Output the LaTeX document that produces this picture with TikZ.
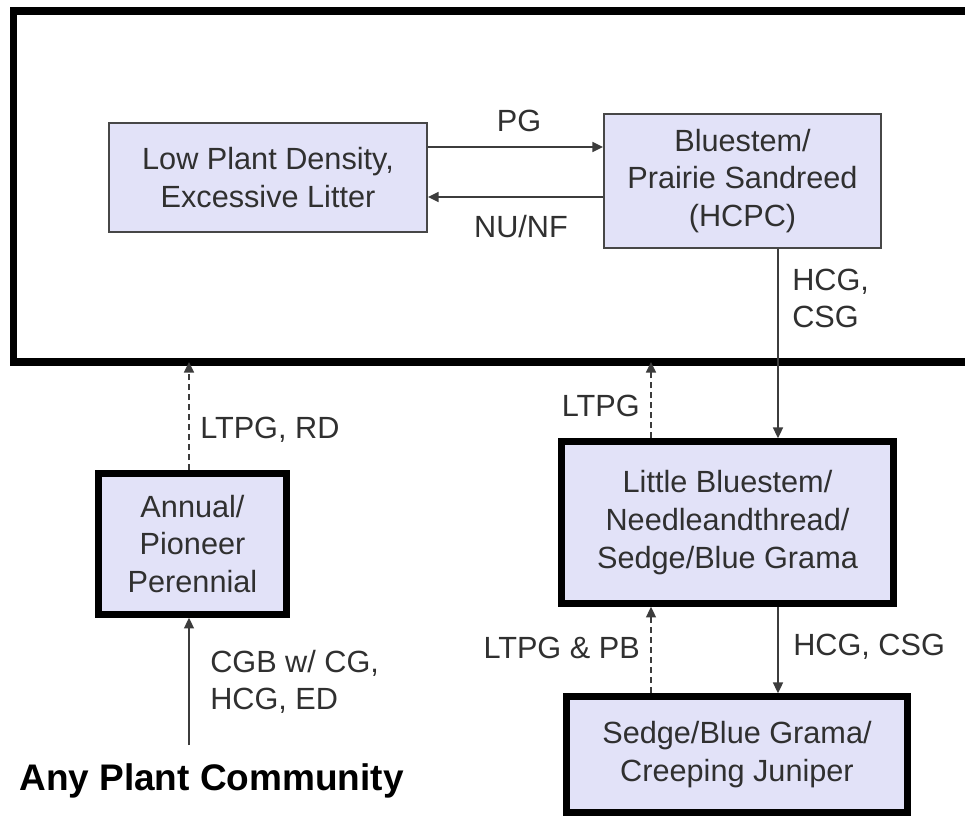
\documentclass[tikz,border=0pt]{standalone}
\usepackage{fontspec}
\setmainfont{Liberation Sans}
\usetikzlibrary{arrows.meta}
\definecolor{boxfill}{RGB}{226,226,248}
\definecolor{txt}{RGB}{48,48,48}
\definecolor{lnc}{RGB}{60,60,60}
\tikzset{
  base/.style={rectangle, fill=boxfill, align=center, text=txt,
    font=\fontsize{23}{28.2}\selectfont, inner sep=0pt},
  thinbox/.style={base, draw=black!72, line width=1.5pt},
  thickbox/.style={base, draw=black, line width=5pt},
  conn/.style={draw=lnc, line width=1.2pt, -{Triangle[length=8pt,width=7.5pt]}},
  dconn/.style={conn, dash pattern=on 4.5pt off 3pt},
  lbl/.style={text=txt, font=\fontsize{23}{27.75}\selectfont, inner sep=0pt, align=left},
}
\begin{document}
\begin{tikzpicture}[x=0.75pt, y=-0.75pt]
\useasboundingbox (0,0) rectangle (965,816);
\clip (0,0) rectangle (965,816);
\fill[white] (0,0) rectangle (965,816);

% outer frame (right side runs off the picture)
\node[draw=black, line width=5.6pt, minimum width=740pt, minimum height=263.25pt,
      inner sep=0pt, outer sep=0pt] (frame) at (506.75,186.5) {};

% state boxes
\node[thinbox, minimum width=238.5pt, minimum height=81.75pt] (low) at (268,177.5)
  {Low Plant Density,\\Excessive Litter};
\node[thinbox, minimum width=207.75pt, minimum height=100.5pt] (blue) at (742.5,181)
  {Bluestem/\\Prairie Sandreed\\(HCPC)};
\node[thickbox, minimum width=249pt, minimum height=121.5pt] (little) at (727.5,522.5)
  {Little Bluestem/\\Needleandthread/\\Sedge/Blue Grama};
\node[thickbox, minimum width=255.75pt, minimum height=87pt] (sedge) at (737,754.5)
  {Sedge/Blue Grama/\\Creeping Juniper};
\node[thickbox, minimum width=141pt, minimum height=105.75pt] (annual) at (192.5,544)
  {Annual/\\Pioneer\\Perennial};
\node[anchor=base, inner sep=0pt, font=\fontsize{27.75}{30}\selectfont\bfseries]
  (any) at (211.5,790) {Any Plant Community};

% helper coordinates
\coordinate (ypg) at (0,147);
\coordinate (ynu) at (0,197);
\coordinate (xh) at (778,0);
\coordinate (xl) at (651,0);
\coordinate (xa) at (189,0);
\coordinate (start) at (189,745);

% connectors
\draw[conn] (low.east |- ypg) -- (blue.west |- ypg);
\draw[conn] (blue.west |- ynu) -- (low.east |- ynu);
\draw[conn] (xh |- blue.south) -- (xh |- little.north);
\draw[conn] (xh |- little.south) -- (xh |- sedge.north);
\draw[dconn] (xl |- little.north) -- (xl |- frame.south);
\draw[dconn] (xl |- sedge.north) -- (xl |- little.south);
\draw[dconn] (xa |- annual.north) -- (xa |- frame.south);
\draw[conn] (start) -- (start |- annual.south);

% labels
\node[lbl, anchor=center] (lpg) at (519,121) {PG};
\node[lbl, anchor=center] (lnu) at (521,227) {NU/NF};
\node[lbl, anchor=west] (lhcg1) at (792,298.5) {HCG,\\CSG};
\node[lbl, anchor=east] (lltpg1) at (640,406) {LTPG};
\node[lbl, anchor=west] (lltpg2) at (200,430) {LTPG, RD};
\node[lbl, anchor=west] (lcgb) at (210,681.5) {CGB w/ CG,\\HCG, ED};
\node[lbl, anchor=east] (lltpg3) at (640,648) {LTPG \& PB};
\node[lbl, anchor=west] (lhcg2) at (793,647) {HCG, CSG};
\end{tikzpicture}
\end{document}
